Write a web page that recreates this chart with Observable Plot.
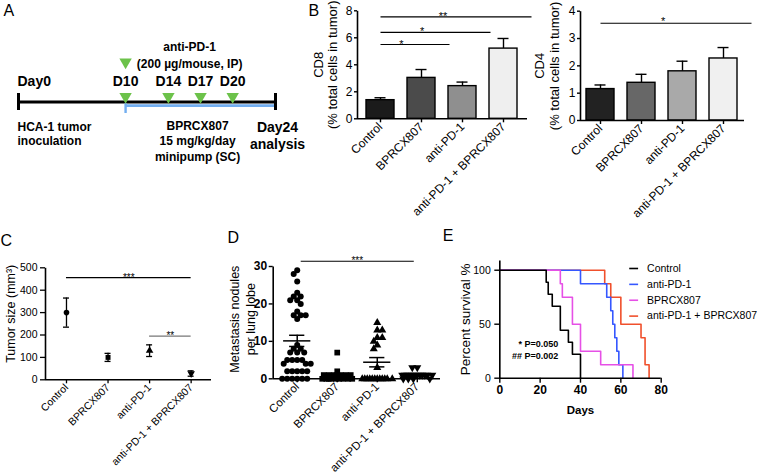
<!DOCTYPE html>
<html><head><meta charset="utf-8">
<script src="https://cdn.jsdelivr.net/npm/d3@7"></script>
<script src="https://cdn.jsdelivr.net/npm/@observablehq/plot@0.6"></script>
<style>
body{margin:0;background:#fff;}
#fig{position:relative;width:757px;height:476px;overflow:hidden;background:#fff;}
#fig svg{position:absolute;overflow:visible;}
</style></head><body><div id="fig"></div>
<script>
// ---------------- data ----------------
const groups = ["Control", "BPRCX807", "anti-PD-1", "anti-PD-1 + BPRCX807"];

// Panel A: schematic timeline
const timelineEnds = [0, 24];
const doseDays = [10, 14, 17, 20];
const doseLabels = ["D10", "D14", "D17", "D20"];
const pumpStart = 10;

// Panel B: tumor-infiltrating T cells (% total cells in tumor)
const cd8Mean = [1.38, 3.03, 2.42, 5.2];
const cd8Sem = [0.18, 0.62, 0.30, 0.75];
const cd8Ticks = [0, 2, 4, 6, 8];
const cd8Sig = [{a: 0, b: 1, y: 5.5, label: "*"}, {a: 0, b: 2, y: 6.4, label: "*"}, {a: 0, b: 3, y: 7.55, label: "**"}];
const cd4Mean = [1.15, 1.38, 1.80, 2.27];
const cd4Sem = [0.15, 0.31, 0.37, 0.40];
const cd4Ticks = [0, 1, 2, 3, 4];
const cd4Sig = [{a: 0, b: 3, y: 3.56, label: "*"}];

// Panel C: tumor size (mm3)
const tumorMean = [300, 100, 130, 28];
const tumorSem = [65, 18, 26, 12];
const tumorTicks = [0, 100, 200, 300, 400, 500];
const tumorSig = [{a: 0, b: 3, y: 456, label: "***", color: "#000"}, {a: 2, b: 3, y: 195, label: "**", color: "#777"}];

// Panel D: metastasis nodules per lung lobe
const metControl = [29, 28, 26, 23, 22, 22, 21, 21, 20, 18, 17, 17, 17, 16, 9, 8, 8, 7, 7, 7, 5, 5, 5, 5, 4, 4, 4, 2, 2, 2, 2, 2, 0, 0, 0, 0, 0, 0];
const metBPR = [7, 2, 1, 1, 1, 1, 1, 1, 1, 0, 0, 0, 0, 0, 0, 0, 0, 0];
const metAnti = [15, 13, 13, 11, 11, 10, 9, 8, 3, 0, 0, 0, 0, 0, 0, 0, 0, 0, 0, 0, 0];
const metCombo = [3, 3, 1, 1, 1, 1, 1, 1, 1, 1, 1, 1, 1, 1, 0, 0, 0, 0];
const metTicks = [0, 10, 20, 30];
const metSig = [{a: 0, b: 3, y: 31.4, label: "***"}];

// Panel E: survival
const survGroups = ["Control", "anti-PD-1", "BPRCX807", "anti-PD-1 + BPRCX807"];
const survColors = ["#000000", "#3557ff", "#e650e6", "#f0502c"];
const survControlDays = [0, 23, 24, 26, 30, 34, 36, 40];
const survControlPct = [100, 88.9, 77.8, 66.7, 44.4, 33.3, 22.2, 0];
const survAntiDays = [0, 40, 53, 55, 56, 57, 58, 59, 61];
const survAntiPct = [100, 87.5, 75, 62.5, 50, 37.5, 25, 12.5, 0];
const survBPRDays = [0, 30, 31, 36, 40, 50, 66];
const survBPRPct = [100, 87.5, 75, 50, 25, 12.5, 0];
const survComboDays = [0, 52, 55, 60, 70, 72, 74];
const survComboPct = [100, 87.5, 75, 50, 37.5, 12.5, 0];
const survTicksX = [0, 20, 40, 60, 80];
const survTicksY = [0, 50, 100];
const pValueText = ["* P=0.050", "## P=0.002"];

// ---------------- helpers ----------------
const FONT = "'Liberation Sans', Arial, Helvetica, sans-serif";
const baseStyle = {fontFamily: FONT, fontSize: "12px", background: "transparent", overflow: "visible", color: "#000"};
const fig = document.getElementById("fig");
function place(svg, left, top) {
  svg.style.position = "absolute";
  svg.style.left = left + "px";
  svg.style.top = top + "px";
  svg.style.overflow = "visible";
  svg.style.background = "transparent";
  svg.style.maxWidth = "none";
  fig.appendChild(svg);
}
// draws only the left edge of the frame (y-axis line)
function leftAxisLine(w, h, sw) {
  return Plot.frame({stroke: "#000", strokeWidth: sw, strokeDasharray: `0,${2 * w + h},${h}`});
}
function letter(ch, dx, dy) {
  return Plot.text([ch], {frameAnchor: "top-left", text: d => d, textAnchor: "start", lineAnchor: "bottom", dx, dy, fontSize: 16, fill: "#000"});
}
function yLabel(txt, dx, dy, fontSize, lineHeight = 1.12) {
  return Plot.text([txt], {frameAnchor: "left", textAnchor: "middle", rotate: -90, text: d => d, dx, dy, fontSize, lineHeight, fill: "#000"});
}
const fmt = d => String(d);

// ---------------- Panel A ----------------
{
  const plot = Plot.plot({
    width: 300, height: 200, marginLeft: 18, marginRight: 25, marginTop: 93, marginBottom: 90, style: baseStyle,
    x: {domain: timelineEnds, axis: null},
    y: {domain: [-1, 1], axis: null},
    marks: [
      Plot.ruleY([0], {x1: pumpStart, x2: 24, stroke: "#72aef0", strokeWidth: 2.6, dy: 3.6}),
      Plot.ruleY([0], {x1: 0, x2: 24, stroke: "#000", strokeWidth: 3}),
      Plot.ruleX(timelineEnds, {y1: -1, y2: 1, stroke: "#000", strokeWidth: 3}),
      Plot.ruleX([pumpStart], {y1: -0.2, y2: -1.35, stroke: "#72aef0", strokeWidth: 2.4}),
      Plot.dot(doseDays, {x: d => d, y: 0, symbol: "triangle", rotate: 180, r: 4.6, fill: "#6cc24a", stroke: "none", dy: -5.3}),
      Plot.dot([doseDays[0]], {x: d => d, y: 0, symbol: "triangle", rotate: 180, r: 4.6, fill: "#6cc24a", stroke: "none", dy: -40}),
      Plot.text(["Day0"], {x: 0, y: 0, text: d => d, textAnchor: "start", lineAnchor: "bottom", dy: -16.5, dx: -1, fontSize: 14, fontWeight: "bold", fill: "#000"}),
      Plot.text(doseDays, {x: d => d, y: 0, text: (d, i) => doseLabels[i], lineAnchor: "bottom", dy: -16.5, fontSize: 14, fontWeight: "bold", fill: "#000"}),
      Plot.text(["anti-PD-1\n(200 µg/mouse, IP)"], {x: pumpStart, y: 0, text: d => d, dx: 64, lineAnchor: "bottom", dy: -34.5, lineHeight: 1.4, fontSize: 12, fontWeight: "bold", fill: "#000"}),
      Plot.text(["HCA-1 tumor\ninoculation"], {x: 0, y: 0, text: d => d, textAnchor: "start", dx: -1, lineAnchor: "bottom", dy: 42.5, lineHeight: 1.12, fontSize: 12, fontWeight: "bold", fill: "#000"}),
      Plot.text(["BPRCX807\n15 mg/kg/day\nminipump (SC)"], {x: 17, y: 0, text: d => d, dx: -3, lineAnchor: "bottom", dy: 58.5, lineHeight: 1.29, fontSize: 12, fontWeight: "bold", fill: "#000"}),
      Plot.text(["Day24\nanalysis"], {x: 24, y: 0, text: d => d, dx: 2, lineAnchor: "bottom", dy: 46.5, lineHeight: 1.15, fontSize: 14, fontWeight: "bold", fill: "#000"}),
      Plot.text(["A"], {frameAnchor: "top-left", text: d => d, textAnchor: "start", lineAnchor: "bottom", dx: -15, dy: -78, fontSize: 16, fill: "#000"})
    ]
  });
  place(plot, 0, 0);
}

// ---------------- Panel B (bar charts) ----------------
function barPanel({means, sems, fills, sig, yMax, yTicks, width, height, ml, mr, mt, mb, pi, po, label, labelDx, letterCh, letterDx, letterDy, starDy, tickSize}) {
  const rows = groups.map((g, i) => ({group: g, mean: means[i], sem: sems[i]}));
  const fw = width - ml - mr, fh = height - mt - mb;
  const step = fw / (groups.length - pi + 2 * po);
  const bw = step * (1 - pi);
  const capInset = (bw - 12) / 2;
  return Plot.plot({
    width, height, marginLeft: ml, marginRight: mr, marginTop: mt, marginBottom: mb, style: baseStyle,
    x: {type: "band", domain: groups, paddingInner: pi, paddingOuter: po},
    y: {domain: [0, yMax]},
    color: {domain: groups, range: fills},
    marks: [
      Plot.ruleX(rows, {x: "group", y1: "mean", y2: d => d.mean + d.sem, strokeWidth: 1.4}),
      Plot.tickY(rows, {x: "group", y: d => d.mean + d.sem, insetLeft: capInset, insetRight: capInset, strokeWidth: 1.4}),
      Plot.barY(rows, {x: "group", y: "mean", fill: "group", stroke: "#000", strokeWidth: 1.4}),
      Plot.ruleY(sig, {x1: d => groups[d.a], x2: d => groups[d.b], y: "y", insetLeft: bw / 2, insetRight: -bw / 2, stroke: "#000", strokeWidth: 1.1}),
      ...sig.map(s => Plot.text([s], {x: d => groups[d.a], y: "y", text: "label", dx: (s.b - s.a) * step / 2, lineAnchor: "bottom", dy: starDy, fontSize: 11, fill: "#000"})),
      Plot.ruleY([0], {strokeWidth: 1.6}),
      leftAxisLine(fw, fh, 1.6),
      Plot.axisY({ticks: yTicks, tickFormat: fmt, tickSize, tickPadding: 2, fontSize: 12, label: null, strokeWidth: 1.4}),
      Plot.axisX({tickRotate: -45, tickSize: 4, tickPadding: 2, fontSize: 12, label: null, strokeWidth: 1.4}),
      yLabel(label, labelDx, 0, 13),
      ...(letterCh ? [letter(letterCh, letterDx, letterDy)] : [])
    ]
  });
}
place(barPanel({
  means: cd8Mean, sems: cd8Sem, fills: ["#1b1b1b", "#4b4b4b", "#8f8f8f", "#efefef"], sig: cd8Sig,
  yMax: 8, yTicks: cd8Ticks, width: 277, height: 230, ml: 107, mr: 0, mt: 10.3, mb: 111.7, pi: 0.305, po: 0.19,
  label: "CD8\n(% total cells in tumor)", labelDx: -32, letterCh: "B", letterDx: -49, letterDy: 4.7, starDy: 3, tickSize: 3
}), 250, 0);
place(barPanel({
  means: cd4Mean, sems: cd4Sem, fills: ["#222222", "#676767", "#a9a9a9", "#f0f0f0"], sig: cd4Sig,
  yMax: 4, yTicks: cd4Ticks, width: 257, height: 230, ml: 80, mr: 13, mt: 10.7, mb: 110, pi: 0.306, po: 0.115,
  label: "CD4\n(% total cells in tumor)", labelDx: -33.5, letterCh: null, starDy: 1.5, tickSize: 3
}), 500, 0);

// ---------------- Panel C ----------------
{
  const rows = groups.map((g, i) => ({group: g, i, mean: tumorMean[i], sem: tumorSem[i]}));
  const width = 215, height = 246, ml = 45, mr = 4, mt = 37.3, mb = 96.7;
  const fw = width - ml - mr, fh = height - mt - mb;
  const plot = Plot.plot({
    width, height, marginLeft: ml, marginRight: mr, marginTop: mt, marginBottom: mb, style: baseStyle,
    x: {domain: [-0.505, 3.49]},
    y: {domain: [0, 500]},
    symbol: {domain: groups, range: ["circle", "square", "triangle", "triangle"]},
    marks: [
      Plot.ruleX(rows, {x: "i", y1: d => d.mean - d.sem, y2: d => d.mean + d.sem, strokeWidth: 1.3}),
      Plot.ruleY(rows, {x1: "i", x2: "i", y: d => d.mean + d.sem, insetLeft: -3, insetRight: -3, strokeWidth: 1.3}),
      Plot.ruleY(rows, {x1: "i", x2: "i", y: d => d.mean - d.sem, insetLeft: -3, insetRight: -3, strokeWidth: 1.3}),
      Plot.dot(rows, {x: "i", y: "mean", symbol: "group", rotate: d => d.i === 3 ? 180 : 0, r: 2.8, fill: "#000", stroke: "none"}),
      Plot.ruleY(tumorSig, {x1: "a", x2: "b", y: "y", stroke: "color", strokeWidth: 1.2}),
      Plot.text(tumorSig, {x: d => (d.a + d.b) / 2, y: "y", text: "label", lineAnchor: "bottom", dy: 3, fontSize: 10, fill: "#000"}),
      Plot.ruleY([0], {strokeWidth: 1.6}),
      leftAxisLine(fw, fh, 1.6),
      Plot.axisY({ticks: tumorTicks, tickFormat: fmt, tickSize: 5, tickPadding: 3, fontSize: 10.5, label: null, strokeWidth: 1.3}),
      Plot.axisX({ticks: [0, 1, 2, 3], tickFormat: i => groups[i], tickRotate: -45, tickSize: 4, tickPadding: 2, fontSize: 10.5, label: null, strokeWidth: 1.3}),
      yLabel("Tumor size (mm³)", -35, -10, 12.5),
      letter("C", -45, -22)
    ]
  });
  place(plot, 0, 230);
}

// ---------------- Panel D ----------------
{
  const width = 250, height = 246, ml = 77.7, mr = 5, mt = 36, mb = 97.7;
  const fw = width - ml - mr, fh = height - mt - mb;
  const xDomain = [-0.6, 3.58], yDomain = [0, 30];
  const kx = fw / (xDomain[1] - xDomain[0]), ky = fh / (yDomain[1] - yDomain[0]);
  const sets = [metControl, metBPR, metAnti, metCombo];
  // simple beeswarm layout (pixel-space collision avoidance, clamped width)
  const diam = 5.0, maxHalf = 15;
  const points = sets.flatMap((vals, gi) => {
    const placed = [];
    return vals.map((v, j) => {
      const py = v * ky;
      let best = null;
      const signs = j % 2 ? [-1, 1] : [1, -1];
      for (let m = 0; m <= maxHalf && best === null; m += 0.5) {
        for (const sg of signs) {
          const px = sg * m;
          if (placed.every(p => (p.px - px) ** 2 + (p.py - py) ** 2 >= diam * diam)) { best = px; break; }
        }
      }
      if (best === null) {
        let bestD = -1;
        for (let px = -maxHalf; px <= maxHalf; px += 0.5) {
          const dmin = d3.min(placed, p => Math.hypot(p.px - px, p.py - py));
          if (dmin > bestD) { bestD = dmin; best = px; }
        }
      }
      placed.push({px: best, py});
      return {group: groups[gi], gi, value: v, x: gi + best / kx};
    });
  });
  const stats = sets.map((vals, gi) => {
    const mean = d3.mean(vals);
    const sem = d3.deviation(vals) / Math.sqrt(vals.length);
    return {gi, mean, lo: mean - sem, hi: mean + sem};
  });
  const plot = Plot.plot({
    width, height, marginLeft: ml, marginRight: mr, marginTop: mt, marginBottom: mb, style: baseStyle,
    x: {domain: xDomain},
    y: {domain: yDomain},
    symbol: {domain: groups, range: ["circle", "square", "triangle", "triangle"]},
    marks: [
      Plot.dot(points, {x: "x", y: "value", symbol: "group", rotate: d => d.gi === 3 ? 180 : 0, r: d => d.gi === 1 ? 3.1 : 2.7, fill: "#000", stroke: "none"}),
      Plot.ruleY(stats, {x1: d => d.gi - 0.34, x2: d => d.gi + 0.34, y: "mean", strokeWidth: 1.5}),
      Plot.ruleX(stats, {x: "gi", y1: "lo", y2: "hi", strokeWidth: 1.5}),
      Plot.ruleY(stats, {x1: d => d.gi - 0.19, x2: d => d.gi + 0.19, y: "hi", strokeWidth: 1.5}),
      Plot.ruleY(stats, {x1: d => d.gi - 0.19, x2: d => d.gi + 0.19, y: "lo", strokeWidth: 1.5}),
      Plot.ruleY(metSig, {x1: "a", x2: "b", y: "y", insetLeft: 4, insetRight: 3, strokeWidth: 1.2}),
      Plot.text(metSig, {x: d => (d.a + d.b) / 2, y: "y", text: "label", lineAnchor: "bottom", dy: 3, fontSize: 10, fill: "#000"}),
      Plot.ruleY([0], {strokeWidth: 1.6}),
      leftAxisLine(fw, fh, 1.6),
      Plot.axisY({ticks: metTicks, tickFormat: fmt, tickSize: 4, tickPadding: 2, fontSize: 12, fontWeight: "bold", label: null, strokeWidth: 1.4}),
      Plot.axisX({ticks: [0, 1, 2, 3], tickFormat: i => groups[i], tickRotate: -45, tickSize: 4, tickPadding: 2, fontSize: 11.5, label: null, strokeWidth: 1.4}),
      yLabel("Metastasis nodules\nper lung lobe", -31.7, -3.5, 12.5, 1.28),
      letter("D", -45.7, -24)
    ]
  });
  place(plot, 195, 230);
}

// ---------------- Panel E ----------------
{
  const series = [
    {group: "anti-PD-1 + BPRCX807", days: survComboDays, pct: survComboPct},
    {group: "anti-PD-1", days: survAntiDays, pct: survAntiPct},
    {group: "BPRCX807", days: survBPRDays, pct: survBPRPct},
    {group: "Control", days: survControlDays, pct: survControlPct}
  ];
  const rows = series.flatMap(s => s.days.map((d, k) => ({group: s.group, day: d, pct: s.pct[k]})));
  const legendRows = survGroups.map((g, i) => ({group: g, ly: 101.6 - i * 14.7}));
  const width = 317, height = 246, ml = 59.3, mr = 96.3, mt = 30, mb = 98.3;
  const fw = width - ml - mr, fh = height - mt - mb;
  const plot = Plot.plot({
    width, height, marginLeft: ml, marginRight: mr, marginTop: mt, marginBottom: mb, style: baseStyle,
    x: {domain: [0, 80]},
    y: {domain: [0, 109]},
    color: {domain: survGroups, range: survColors},
    marks: [
      Plot.line(rows, {x: "day", y: "pct", z: "group", stroke: "group", curve: "step-after", strokeWidth: 1.6}),
      Plot.ruleY(legendRows, {x1: 64.4, x2: 68.8, y: "ly", stroke: "group", strokeWidth: 1.6}),
      Plot.text(legendRows, {x: 73, y: "ly", text: "group", textAnchor: "start", fontSize: 10.5, fill: "#000"}),
      Plot.text([pValueText.join("\n")], {x: 29, y: 17.4, text: d => d, textAnchor: "end", lineAnchor: "bottom", lineHeight: 1.37, fontSize: 9, fontWeight: "bold", fill: "#000"}),
      Plot.ruleY([0], {strokeWidth: 1.6}),
      leftAxisLine(fw, fh, 1.6),
      Plot.axisY({ticks: survTicksY, tickFormat: fmt, tickSize: 5, tickPadding: 4, fontSize: 10.5, label: null, strokeWidth: 1.4}),
      Plot.axisX({ticks: survTicksX, tickFormat: fmt, tickSize: 5, tickPadding: 2, fontSize: 12, fontWeight: "bold", label: null, strokeWidth: 1.4}),
      Plot.text(["Days"], {frameAnchor: "bottom", text: d => d, lineAnchor: "bottom", dy: 35.3, fontSize: 11.5, fontWeight: "bold", fill: "#000"}),
      yLabel("Percent survival %", -34.3, 0, 13.5),
      letter("E", -57, -20)
    ]
  });
  place(plot, 440, 230);
}
</script></body></html>
